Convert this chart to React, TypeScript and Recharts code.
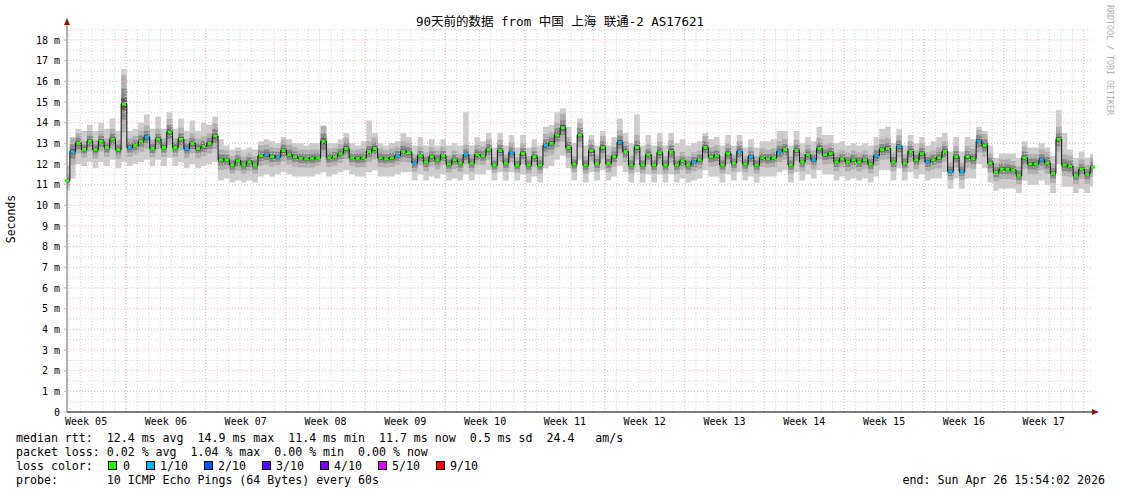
import { ComposedChart, Area, Line, XAxis, YAxis, ReferenceLine } from "recharts";

// half-day samples over 90 days (index 0..180), values in ms
const median = [
  11.2, 12.6, 13.0, 12.7, 13.1, 12.7, 13.1, 12.8, 13.2, 12.7,
  14.9, 12.8, 12.9, 13.1, 13.3, 12.75, 13.2, 12.8, 13.55, 12.8,
  13.2, 12.75, 13.0, 12.75, 12.85, 13.0, 13.35, 12.2, 12.2, 11.95,
  12.15, 11.95, 12.1, 11.95, 12.4, 12.45, 12.35, 12.35, 12.65, 12.45,
  12.35, 12.27, 12.25, 12.27, 12.3, 13.1, 12.3, 12.35, 12.5, 12.75,
  12.3, 12.27, 12.3, 12.6, 12.75, 12.3, 12.25, 12.3, 12.4, 12.6,
  12.55, 12.05, 12.4, 12.1, 12.35, 12.2, 12.4, 12.0, 12.2, 12.05,
  12.45, 12.05, 12.45, 12.4, 12.7, 11.95, 12.65, 12.05, 12.55, 11.95,
  12.5, 11.95, 12.35, 11.95, 12.9, 13.0, 13.4, 13.75, 12.8, 12.0,
  13.4, 11.95, 12.65, 12.03, 12.8, 12.03, 12.35, 13.05, 12.6, 11.95,
  12.8, 11.95, 12.45, 11.95, 12.55, 11.95, 12.6, 11.95, 12.15, 11.95,
  12.1, 12.2, 12.8, 12.35, 12.4, 11.95, 12.5, 12.05, 12.6, 12.0,
  12.35, 11.95, 12.3, 12.25, 12.3, 12.6, 12.7, 11.95, 12.65, 12.1,
  12.45, 12.2, 12.75, 12.45, 12.5, 12.1, 12.25, 12.1, 12.2, 12.1,
  12.2, 12.0, 12.4, 12.7, 12.75, 12.1, 12.85, 12.05, 12.6, 12.2,
  12.5, 12.1, 12.2, 12.3, 12.6, 11.65, 12.35, 11.65, 12.35, 12.25,
  13.1, 12.9, 12.05, 11.6, 11.75, 11.75, 11.7, 11.45, 12.3, 12.0,
  12.0, 12.2, 12.05, 11.55, 13.2, 11.95, 11.9, 11.45, 11.75, 11.5,
  11.85,
];

const smokeHi = [
  11.9, 13.3, 13.7, 13.6, 13.9, 13.6, 14.0, 13.7, 14.2, 13.6,
  16.6, 13.6, 13.7, 14.0, 14.4, 13.7, 14.3, 13.7, 14.5, 13.7,
  14.2, 13.6, 14.1, 13.6, 14.0, 13.9, 14.3, 13.2, 12.9, 12.7,
  12.8, 12.7, 12.8, 12.7, 13.1, 13.2, 13.1, 13.0, 13.3, 13.2,
  13.0, 13.0, 12.9, 13.0, 13.0, 13.8, 13.0, 13.0, 13.2, 13.5,
  13.0, 12.9, 13.1, 14.1, 13.5, 13.0, 12.9, 13.0, 13.1, 13.5,
  13.3, 12.9, 13.3, 12.9, 13.2, 12.9, 13.2, 12.9, 13.0, 12.9,
  14.5, 12.9, 13.3, 13.1, 13.5, 12.8, 13.5, 12.9, 13.4, 12.8,
  13.4, 12.8, 13.2, 12.9, 13.8, 13.9, 14.5, 14.7, 13.8, 13.0,
  14.2, 12.9, 13.4, 12.9, 13.6, 12.9, 13.3, 14.2, 13.5, 13.0,
  14.4, 12.9, 13.4, 12.9, 13.5, 12.9, 13.5, 13.0, 13.2, 12.9,
  13.0, 13.1, 13.5, 13.2, 13.3, 12.9, 13.4, 12.9, 13.4, 12.8,
  13.2, 12.8, 13.1, 13.1, 13.2, 13.6, 13.6, 12.9, 13.6, 13.0,
  13.3, 13.1, 13.8, 13.4, 13.4, 13.0, 13.1, 12.9, 13.0, 12.9,
  13.0, 12.9, 13.3, 13.7, 13.8, 13.0, 13.7, 12.9, 13.4, 13.0,
  13.3, 12.9, 13.1, 13.3, 13.5, 12.6, 13.3, 12.6, 13.3, 13.2,
  13.8, 13.6, 12.9, 12.3, 12.5, 12.5, 12.5, 12.3, 13.1, 12.8,
  12.8, 13.0, 12.8, 12.4, 14.6, 13.5, 12.7, 12.3, 12.6, 12.3,
  12.5,
];

const smokeLo = [
  10.7, 11.3, 12.0, 11.9, 12.1, 11.8, 12.1, 11.9, 12.2, 11.8,
  12.1, 11.9, 12.0, 12.1, 12.2, 11.9, 12.2, 11.9, 12.3, 11.9,
  12.1, 11.8, 12.0, 11.8, 11.9, 12.0, 12.1, 11.2, 11.3, 11.1,
  11.2, 11.1, 11.2, 11.1, 11.4, 11.5, 11.4, 11.5, 11.6, 11.5,
  11.4, 11.4, 11.4, 11.4, 11.5, 11.6, 11.4, 11.5, 11.6, 11.7,
  11.5, 11.4, 11.4, 11.6, 11.7, 11.4, 11.4, 11.4, 11.5, 11.6,
  11.6, 11.2, 11.5, 11.2, 11.4, 11.3, 11.5, 11.2, 11.3, 11.2,
  11.5, 11.2, 11.5, 11.5, 11.7, 11.2, 11.6, 11.2, 11.6, 11.2,
  11.5, 11.1, 11.4, 11.1, 11.8, 11.9, 12.2, 12.4, 11.8, 11.2,
  12.2, 11.1, 11.6, 11.2, 11.7, 11.2, 11.4, 11.9, 11.6, 11.1,
  11.6, 11.1, 11.5, 11.1, 11.5, 11.1, 11.5, 11.1, 11.3, 11.1,
  11.2, 11.3, 11.7, 11.4, 11.4, 11.1, 11.5, 11.2, 11.6, 11.2,
  11.4, 11.1, 11.4, 11.4, 11.4, 11.6, 11.7, 11.1, 11.6, 11.2,
  11.5, 11.3, 11.7, 11.5, 11.5, 11.2, 11.4, 11.2, 11.3, 11.2,
  11.3, 11.1, 11.4, 11.7, 11.7, 11.2, 11.8, 11.2, 11.6, 11.3,
  11.5, 11.2, 11.3, 11.3, 11.6, 10.8, 11.3, 10.8, 11.3, 11.3,
  12.0, 11.8, 11.1, 10.7, 10.8, 10.8, 10.8, 10.6, 11.2, 11.0,
  11.0, 11.2, 11.0, 10.6, 12.0, 10.9, 10.9, 10.6, 10.8, 10.6,
  10.9,
];

// samples where 1/10 pings were lost
const lossOneTenth = [1, 11, 14, 21, 35, 37, 58, 61, 70, 78, 84, 97, 110, 118, 120, 125, 131, 142, 146, 151, 155, 157, 160, 171];

const weekLabels = [
  "Week 05", "Week 06", "Week 07", "Week 08", "Week 09", "Week 10", "Week 11",
  "Week 12", "Week 13", "Week 14", "Week 15", "Week 16", "Week 17",
];

const yTicks = [0, 1, 2, 3, 4, 5, 6, 7, 8, 9, 10, 11, 12, 13, 14, 15, 16, 17, 18];

const lossLegend = [
  { label: "0", color: "#26ff00", box: 108, text: 123 },
  { label: "1/10", color: "#00b8ff", box: 146, text: 160 },
  { label: "2/10", color: "#0059ff", box: 204, text: 218 },
  { label: "3/10", color: "#5e00ff", box: 262, text: 276 },
  { label: "4/10", color: "#7e00ff", box: 320, text: 334 },
  { label: "5/10", color: "#dd00ff", box: 378, text: 392 },
  { label: "9/10", color: "#ff0000", box: 436, text: 450 },
];

const legendRows = [
  "median rtt:  12.4 ms avg  14.9 ms max  11.4 ms min  11.7 ms now  0.5 ms sd  24.4   am/s",
  "packet loss: 0.02 % avg  1.04 % max  0.00 % min  0.00 % now",
  "loss color:",
  "probe:       10 ICMP Echo Pings (64 Bytes) every 60s",
];

// first Monday boundary, in half-day units from the left edge
const FIRST_WEEK = 10.35;

const data = median.map((m, i) => {
  const d = m - smokeLo[i];
  return {
    i,
    med: m,
    outer: [smokeLo[i], smokeHi[i]],
    mid: [m - 0.5 * d, m + 0.5 * d],
    inner: [m - 0.27 * d, m + 0.27 * d],
    core: [m - 0.1 * d, m + 0.1 * d],
    loss: lossOneTenth.includes(i) ? 1 : 0,
  };
});

const weekLines = weekLabels.map((_, k) => FIRST_WEEK + 14 * k);
const weekTicks = weekLabels.map((_, k) => FIRST_WEEK - 7 + 14 * k);
const dayLines = Array.from({ length: 90 }, (_, k) => FIRST_WEEK - 10 + 2 * k).filter((v) => v > 0);
const halfLines = yTicks.map((v) => v + 0.5);

const mono = "'DejaVu Sans Mono', 'Noto Sans CJK SC', monospace";
const keepSpaces = (s: string) => s.replace(/ /g, "\u00a0");

const renderDot = (p: any) => (
  <rect
    key={`m${p.index}`}
    x={p.cx - 2}
    y={p.cy - 1.5}
    width={4}
    height={3}
    fill={p.payload.loss ? "#00b8ff" : "#26ff00"}
  />
);

export default function App() {
  return (
    <div style={{ position: "absolute", left: 0, top: 0, width: 1121, height: 494, background: "#fff" }}>
      <ComposedChart
        width={1121}
        height={494}
        data={data}
        margin={{ top: 28, right: 28, bottom: 52, left: 7 }}
      >
        <XAxis
          dataKey="i"
          type="number"
          domain={[0, 180]}
          ticks={weekTicks}
          interval={0}
          tickFormatter={(v: number) => weekLabels[Math.round((v - FIRST_WEEK + 7) / 14)]}
          tickLine={false}
          tickSize={3}
          tickMargin={3}
          height={30}
          axisLine={{ stroke: "#000" }}
          tick={{ fontFamily: mono, fontSize: 10, fill: "#000" }}
        />
        <YAxis
          type="number"
          domain={[0, 18.58]}
          ticks={yTicks}
          interval={0}
          width={60}
          tickSize={3}
          tickMargin={4}
          tickFormatter={(v: number) => (v === 0 ? "0" : `${v} m`)}
          axisLine={{ stroke: "#666" }}
          tickLine={{ stroke: "#bbb" }}
          tick={{ fontFamily: mono, fontSize: 10, fill: "#000" }}
        />
        <Area type="step" dataKey="outer" stroke="none" fill="#cdcdcd" fillOpacity={1} isAnimationActive={false} />
        <Area type="step" dataKey="mid" stroke="none" fill="#b0b0b0" fillOpacity={1} isAnimationActive={false} />
        <Area type="step" dataKey="inner" stroke="none" fill="#8a8a8a" fillOpacity={1} isAnimationActive={false} />
        <Area type="step" dataKey="core" stroke="none" fill="#555555" fillOpacity={1} isAnimationActive={false} />
        {halfLines.map((v) => (
          <ReferenceLine key={`h${v}`} y={v} stroke="#d4d4d4" strokeDasharray="1 2" />
        ))}
        {dayLines.map((v) => (
          <ReferenceLine key={`d${v}`} x={v} stroke="#d4d4d4" strokeDasharray="1 2" />
        ))}
        {yTicks.slice(1).map((v) => (
          <ReferenceLine key={`H${v}`} y={v} stroke="#f6b4b4" strokeDasharray="1 2" />
        ))}
        {weekLines.map((v) => (
          <ReferenceLine key={`w${v}`} x={v} stroke="#f6b4b4" strokeDasharray="1 2" />
        ))}
        <Line
          type="step"
          dataKey="med"
          stroke="#111"
          strokeWidth={1}
          dot={renderDot}
          activeDot={false}
          isAnimationActive={false}
        />
      </ComposedChart>
      <svg width={1121} height={494} style={{ position: "absolute", left: 0, top: 0, pointerEvents: "none" }}>
        <text x={560} y={26} textAnchor="middle" fontFamily={mono} fontSize={12.5} fill="#000">
          90天前的数据 from 中国 上海 联通-2 AS17621
        </text>
        <text transform="translate(15,219) rotate(-90)" textAnchor="middle" fontFamily={mono} fontSize={11.5} fill="#000">
          Seconds
        </text>
        <text transform="translate(1107,5) rotate(90)" fontFamily={mono} fontSize={8.3} fill="#b0b0b0">
          RRDTOOL / TOBI OETIKER
        </text>
        <line x1={67} y1={20} x2={67} y2={28} stroke="#666" />
        <polygon points="67,18 64,25 70,25" fill="#8b1a1a" />
        <line x1={1093} y1={412} x2={1097} y2={412} stroke="#000" />
        <polygon points="1099,412 1092,409 1092,415" fill="#8b1a1a" />
        <g fontFamily={mono} fontSize={11.6} fill="#000">
          {legendRows.map((row, r) => (
            <text key={r} x={16} y={442 + 14 * r}>{keepSpaces(row)}</text>
          ))}
          {lossLegend.map((l) => (
            <g key={l.label}>
              <rect x={l.box + 0.5} y={461.5} width={8} height={8} fill={l.color} stroke="#000" />
              <text x={l.text} y={470}>{l.label}</text>
            </g>
          ))}
          <text x={1105} y={484} textAnchor="end">{keepSpaces("end: Sun Apr 26 15:54:02 2026")}</text>
        </g>
      </svg>
    </div>
  );
}
